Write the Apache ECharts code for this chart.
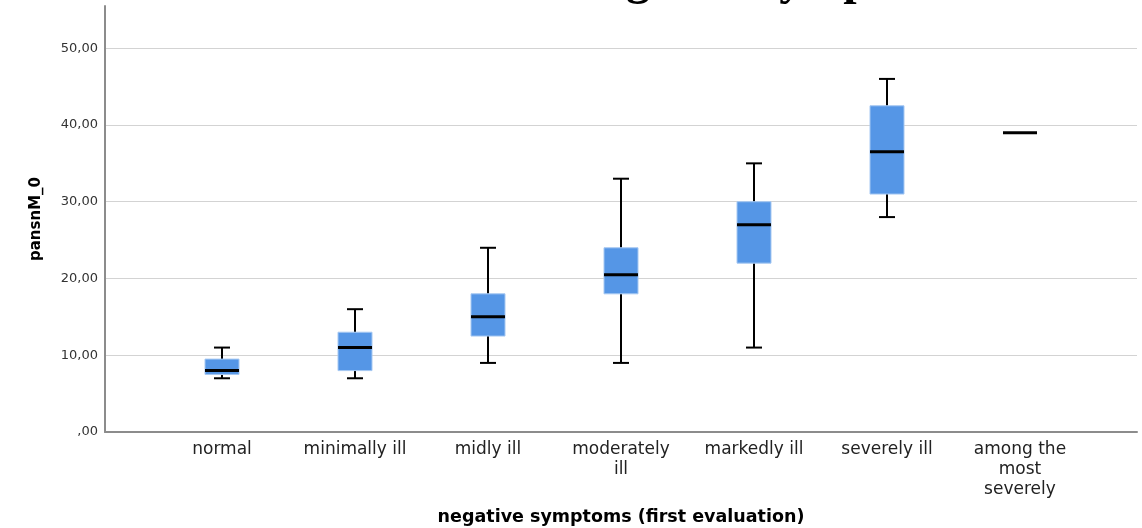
<!DOCTYPE html>
<html>
<head>
<meta charset="utf-8">
<title>pansnM_0 by negative symptoms</title>
<script src="https://cdn.jsdelivr.net/npm/echarts@6/dist/echarts.min.js"></script>
<style>
    html, body { margin: 0; padding: 0; background: #fff; }
    #main { width: 1142px; height: 528px; }
</style>
</head>
<body>
<div id="main"></div>
<script>
// groups of negative symptoms (first evaluation)
const categories = ['normal', 'minimally ill', 'midly ill', 'moderately\nill', 'markedly ill', 'severely ill', 'among the\nmost\nseverely'];
// box plot numbers, one per group
const whiskerLow  = [7, 7, 9, 9, 11, 28, 39];
const q1          = [7.5, 8, 12.5, 18, 22, 31, 39];
const medians     = [8, 11, 15, 20.5, 27, 36.5, 39];
const q3          = [9.5, 13, 18, 24, 30, 42.5, 39];
const whiskerHigh = [11, 16, 24, 33, 35, 46, 39];
const yTicks = [0, 10, 20, 30, 40, 50];

const boxData = categories.map((c, i) => [i, whiskerLow[i], q1[i], medians[i], q3[i], whiskerHigh[i]]);

const chart = echarts.init(document.getElementById('main'));

// draw one box: whiskers with caps, blue box, black median
function renderBox(params, api) {
    const x = api.value(0);
    const lo = api.coord([x, api.value(1)]);
    const b1 = api.coord([x, api.value(2)]);
    const md = api.coord([x, api.value(3)]);
    const b3 = api.coord([x, api.value(4)]);
    const hi = api.coord([x, api.value(5)]);
    const cx = Math.round(lo[0]);
    const half = 17, cap = 8;
    const line = (x1, y1, x2, y2, w) => ({
        type: 'line',
        shape: {x1: x1, y1: y1, x2: x2, y2: y2},
        style: {stroke: '#000', lineWidth: w}
    });
    const children = [];
    if (b3[1] - hi[1] > 0.5) {
        children.push(line(cx, hi[1], cx, b3[1], 2));
        children.push(line(cx - cap, hi[1], cx + cap, hi[1], 2));
    }
    if (lo[1] - b1[1] > 0.5) {
        children.push(line(cx, b1[1], cx, lo[1], 2));
        children.push(line(cx - cap, lo[1], cx + cap, lo[1], 2));
    }
    if (b1[1] - b3[1] > 0.5) {
        children.push({
            type: 'rect',
            shape: {x: cx - half, y: b3[1], width: half * 2, height: b1[1] - b3[1]},
            style: {fill: '#5596e6', stroke: '#a6c8f2', lineWidth: 1}
        });
    }
    children.push(line(cx - half, md[1], cx + half, md[1], 3));
    return {type: 'group', children: children};
}

const option = {
    animation: false,
    grid: {left: 105, right: 5, top: 6, bottom: 96, outerBoundsMode: 'none'},
    graphic: [{
        type: 'text',
        x: 578,
        y: 6,
        style: {
            text: 'negative symptoms',
            font: 'bold 48px "Liberation Serif"',
            fill: '#000',
            textAlign: 'left',
            verticalAlign: 'bottom'
        }
    }],
    xAxis: {
        type: 'value',
        min: -0.88,
        max: 6.88,
        splitLine: {show: false},
        axisTick: {show: false},
        axisLine: {onZero: false, lineStyle: {color: '#8c8c8c', width: 2}},
        axisLabel: {
            customValues: categories.map((c, i) => i),
            formatter: v => categories[Math.round(v)],
            color: '#222',
            fontFamily: 'DejaVu Sans',
            fontSize: 17,
            lineHeight: 20,
            margin: 8
        },
        name: 'negative symptoms (first evaluation)',
        nameLocation: 'middle',
        nameGap: 76,
        nameTextStyle: {color: '#000', fontFamily: 'DejaVu Sans', fontWeight: 'bold', fontSize: 17.5}
    },
    yAxis: {
        type: 'value',
        min: 0,
        max: 55.5,
        interval: 10,
        axisLine: {show: true, onZero: false, lineStyle: {color: '#8c8c8c', width: 2}},
        axisTick: {show: false},
        splitLine: {showMaxLine: false, lineStyle: {color: '#d3d3d3', width: 1}},
        axisLabel: {
            customValues: yTicks,
            formatter: v => v === 0 ? ',00' : v.toFixed(2).replace('.', ','),
            color: '#333',
            fontFamily: 'DejaVu Sans',
            fontSize: 13,
            margin: 7
        },
        name: 'pansnM_0',
        nameLocation: 'middle',
        nameGap: 61,
        nameTextStyle: {color: '#000', fontFamily: 'DejaVu Sans', fontWeight: 'bold', fontSize: 15}
    },
    series: [{
        type: 'custom',
        renderItem: renderBox,
        encode: {x: 0, y: [1, 2, 3, 4, 5]},
        data: boxData
    }]
};
chart.setOption(option);
</script>
</body>
</html>
